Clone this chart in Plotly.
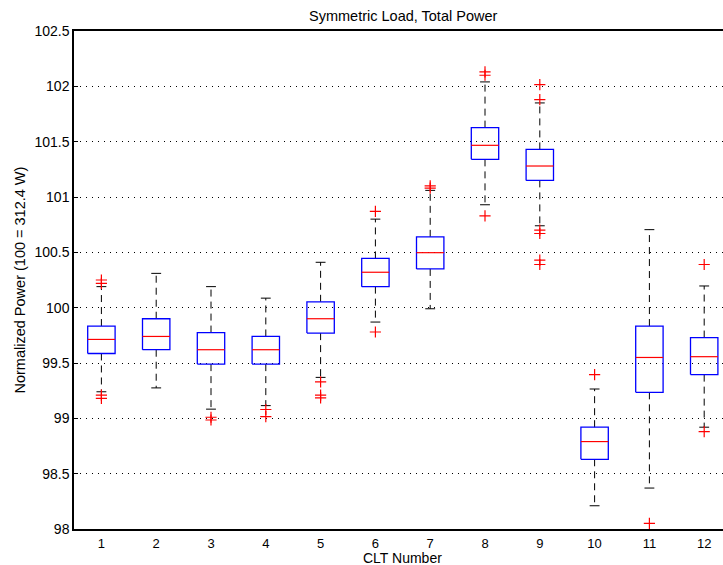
import plotly.graph_objects as go

clt = [1, 2, 3, 4, 5, 6, 7, 8, 9, 10, 11, 12]
lower_whisker = [99.24, 99.275, 99.083, 99.115, 99.37, 99.87, 99.99, 100.93, 100.74, 98.21, 98.37, 98.92]
q1 = [99.586, 99.62, 99.49, 99.49, 99.77, 100.19, 100.35, 101.34, 101.15, 98.63, 99.235, 99.395]
median = [99.713, 99.74, 99.62, 99.62, 99.90, 100.32, 100.497, 101.467, 101.28, 98.79, 99.55, 99.557]
q3 = [99.834, 99.90, 99.775, 99.74, 100.053, 100.445, 100.64, 101.627, 101.43, 98.92, 99.834, 99.73]
upper_whisker = [100.19, 100.31, 100.19, 100.086, 100.41, 100.80, 101.06, 102.04, 101.85, 99.265, 100.705, 100.196]
outliers = [
    [100.25, 100.22, 99.21, 99.18],
    [],
    [99.01, 98.985],
    [99.08, 99.015],
    [99.33, 99.21, 99.185],
    [100.87, 99.78],
    [101.10, 101.08],
    [102.13, 102.10, 100.83],
    [102.015, 101.88, 100.70, 100.67, 100.43, 100.39],
    [99.395],
    [98.05],
    [100.39, 98.88],
]
ytick_vals = [98, 98.5, 99, 99.5, 100, 100.5, 101, 101.5, 102, 102.5]
ytick_text = ["98", "98.5", "99", "99.5", "100", "100.5", "101", "101.5", "102", "102.5"]

BOX_HALF = 0.25
CAP_HALF = 0.09
FONT = "Liberation Sans"

box_x, box_y = [], []
med_x, med_y = [], []
wh_x, wh_y = [], []
cap_x, cap_y = [], []
out_x, out_y = [], []
for i, x in enumerate(clt):
    box_x += [x - BOX_HALF, x + BOX_HALF, x + BOX_HALF, x - BOX_HALF, x - BOX_HALF, None]
    box_y += [q1[i], q1[i], q3[i], q3[i], q1[i], None]
    med_x += [x - BOX_HALF, x + BOX_HALF, None]
    med_y += [median[i], median[i], None]
    wh_x += [x, x, None, x, x, None]
    wh_y += [q3[i], upper_whisker[i], None, q1[i], lower_whisker[i], None]
    cap_x += [x - CAP_HALF, x + CAP_HALF, None, x - CAP_HALF, x + CAP_HALF, None]
    cap_y += [upper_whisker[i], upper_whisker[i], None, lower_whisker[i], lower_whisker[i], None]
    for o in outliers[i]:
        out_x.append(x)
        out_y.append(o)

fig = go.Figure()
fig.add_trace(go.Scatter(x=wh_x, y=wh_y, mode="lines",
                         line=dict(color="black", width=1, dash="7px,5px"), hoverinfo="skip"))
fig.add_trace(go.Scatter(x=cap_x, y=cap_y, mode="lines",
                         line=dict(color="black", width=1), hoverinfo="skip"))
fig.add_trace(go.Scatter(x=box_x, y=box_y, mode="lines",
                         line=dict(color="#0000ff", width=1.3), hoverinfo="skip"))
fig.add_trace(go.Scatter(x=med_x, y=med_y, mode="lines",
                         line=dict(color="#ff0000", width=1.2), hoverinfo="skip"))
fig.add_trace(go.Scatter(x=out_x, y=out_y, mode="markers",
                         marker=dict(symbol="cross-thin-open", size=8, color="#ff0000",
                                     line=dict(color="#ff0000", width=1.2)),
                         hoverinfo="skip"))

fig.update_layout(
    width=723, height=565,
    margin=dict(l=74, r=0, t=31, b=36),
    paper_bgcolor="white", plot_bgcolor="white",
    showlegend=False,
    font=dict(family=FONT, size=14, color="black"),
    xaxis=dict(range=[0.5, 12.343], tickmode="array", tickvals=clt,
               ticktext=[str(c) for c in clt], showgrid=False, zeroline=False,
               showline=True, linecolor="black", linewidth=1.5, mirror=True,
               ticks="", tickfont=dict(size=13), ticklabelstandoff=2),
    yaxis=dict(range=[98, 102.5], tickmode="array", tickvals=ytick_vals,
               ticktext=ytick_text, showgrid=True, gridcolor="black",
               griddash="1px,5px", gridwidth=1, zeroline=False,
               showline=True, linecolor="black", linewidth=1.5,
               ticks="inside", ticklen=4, tickcolor="black",
               tickfont=dict(size=14)),
    annotations=[
        dict(text="Symmetric Load, Total Power", x=6.5, xref="x", y=1 + (31 - 16) / 498,
             yref="paper", yanchor="middle", showarrow=False, font=dict(size=14.5)),
        dict(text="CLT Number", x=6.5, xref="x", y=-(557.5 - 529) / 498, yref="paper",
             yanchor="middle", showarrow=False, font=dict(size=14)),
        dict(text="Normalized Power (100 = 312.4 W)", x=(19.5 - 74) / 649, xref="paper",
             xanchor="center", y=0.5, yref="paper", yanchor="middle",
             textangle=-90, showarrow=False, font=dict(size=14.5)),
    ],
)

fig.write_html("out.html")
